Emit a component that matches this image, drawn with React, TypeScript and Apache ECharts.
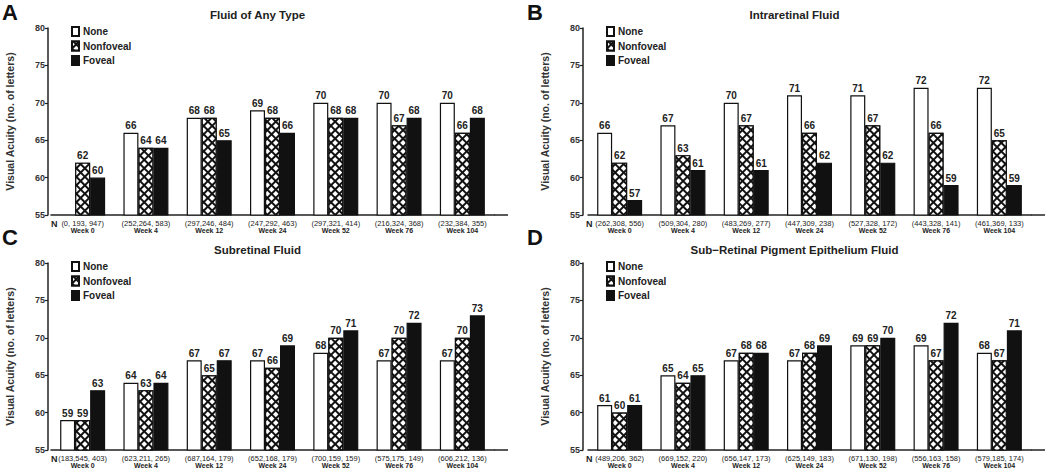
import React, { useEffect, useRef } from "react";
import * as echarts from "echarts";

const weeks = ["Week 0", "Week 4", "Week 12", "Week 24", "Week 52", "Week 76", "Week 104"];
const seriesNames = ["None", "Nonfoveal", "Foveal"];

// A: Fluid of Any Type
const anyNone = [null, 66, 68, 69, 70, 70, 70];
const anyNonfoveal = [62, 64, 68, 68, 68, 67, 66];
const anyFoveal = [60, 64, 65, 66, 68, 68, 68];
const anyN = ["(0, 193, 947)", "(252,264, 583)", "(297,246, 484)", "(247,292, 463)", "(297,321, 414)", "(216,324, 368)", "(232,384, 355)"];

// B: Intraretinal Fluid
const irfNone = [66, 67, 70, 71, 71, 72, 72];
const irfNonfoveal = [62, 63, 67, 66, 67, 66, 65];
const irfFoveal = [57, 61, 61, 62, 62, 59, 59];
const irfN = ["(262,308, 556)", "(509,304, 280)", "(483,269, 277)", "(447,309, 238)", "(527,328, 172)", "(443,328, 141)", "(461,369, 133)"];

// C: Subretinal Fluid
const srfNone = [59, 64, 67, 67, 68, 67, 67];
const srfNonfoveal = [59, 63, 65, 66, 70, 70, 70];
const srfFoveal = [63, 64, 67, 69, 71, 72, 73];
const srfN = ["(183,545, 403)", "(623,211, 265)", "(687,164, 179)", "(652,168, 179)", "(700,159, 159)", "(575,175, 149)", "(606,212, 136)"];

// D: Sub-Retinal Pigment Epithelium Fluid
const rpeNone = [61, 65, 67, 67, 69, 69, 68];
const rpeNonfoveal = [60, 64, 68, 68, 69, 67, 67];
const rpeFoveal = [61, 65, 68, 69, 70, 72, 71];
const rpeN = ["(489,206, 362)", "(669,152, 220)", "(656,147, 173)", "(625,149, 183)", "(671,130, 198)", "(556,163, 158)", "(579,185, 174)"];

const yTicks = { min: 55, max: 80, interval: 5 };
const yTitle = "Visual Acuity (no. of letters)";

const FONT = "'Liberation Sans', Arial, Helvetica, sans-serif";

const panels = [
  { letter: "A", title: "Fluid of Any Type", values: [anyNone, anyNonfoveal, anyFoveal], n: anyN, left: 51, top: 28, axisX: 48, lineEnd: 508, letterX: 2, letterY: 1 },
  { letter: "B", title: "Intraretinal Fluid", values: [irfNone, irfNonfoveal, irfFoveal], n: irfN, left: 588, top: 28, axisX: 583, lineEnd: 1045, letterX: 527, letterY: 1 },
  { letter: "C", title: "Subretinal Fluid", values: [srfNone, srfNonfoveal, srfFoveal], n: srfN, left: 51, top: 263, axisX: 48, lineEnd: 508, letterX: 2, letterY: 226 },
  { letter: "D", title: "Sub\u2212Retinal Pigment Epithelium Fluid", values: [rpeNone, rpeNonfoveal, rpeFoveal], n: rpeN, left: 588, top: 263, axisX: 583, lineEnd: 1045, letterX: 527, letterY: 226 },
];

const GRID_W = 443;
const GRID_H = 187;

const hatch = {
  symbol: "rect",
  symbolSize: 1,
  color: "#ffffff",
  dashArrayX: [3.2, 1.6],
  dashArrayY: [3.2, 1.6],
  rotation: Math.PI / 4,
};

const styles = [
  { color: "#ffffff", borderColor: "#111", borderWidth: 1.2 },
  { color: "#111111", borderColor: "#111", borderWidth: 1.2, decal: hatch },
  { color: "#111111", borderColor: "#111", borderWidth: 1.2 },
];

export default function App() {
  const ref = useRef<HTMLDivElement>(null);
  useEffect(() => {
    if (!ref.current) return;
    const chart = echarts.init(ref.current, null, { renderer: "svg" });

    const title: any[] = [];
    const legend: any[] = [];
    const grid: any[] = [];
    const xAxis: any[] = [];
    const yAxis: any[] = [];
    const series: any[] = [];
    const graphic: any[] = [];

    panels.forEach((p, i) => {
      title.push({
        text: p.title,
        left: p.left + GRID_W / 2 - 20,
        top: p.top - 24,
        textAlign: "center",
        textStyle: { fontFamily: FONT, fontSize: 11.5, fontWeight: "bold", color: "#222" },
      });
      title.push({
        text: p.letter,
        left: p.letterX,
        top: p.letterY,
        padding: 0,
        textStyle: { fontFamily: FONT, fontSize: 22, fontWeight: "bold", color: "#111" },
      });
      legend.push({
        left: p.axisX + 23,
        top: p.top - 2,
        orient: "vertical",
        icon: "rect",
        itemWidth: 7,
        itemHeight: 9,
        itemGap: 3.5,
        padding: 0,
        selectedMode: false,
        data: seriesNames,
        textStyle: { fontFamily: FONT, fontSize: 10, fontWeight: "bold", color: "#222", padding: [0, 0, 0, -1] },
      });
      grid.push({ left: p.left, top: p.top, width: GRID_W, height: GRID_H });
      xAxis.push({
        type: "category",
        gridIndex: i,
        data: weeks,
        axisLine: { show: true, lineStyle: { color: "#222", width: 1.5 } },
        axisTick: { show: false },
        axisLabel: {
          interval: 0,
          margin: 5,
          formatter: (val: string, idx: number) => `{n|${p.n[idx]}}\n{w|${val}}`,
          rich: {
            n: { fontFamily: FONT, fontSize: 7.5, color: "#222", lineHeight: 7 },
            w: { fontFamily: FONT, fontSize: 7, fontWeight: "bold", color: "#222", lineHeight: 7 },
          },
        },
      });
      yAxis.push({
        type: "value",
        gridIndex: i,
        min: yTicks.min,
        max: yTicks.max,
        interval: yTicks.interval,
        offset: p.left - p.axisX,
        name: yTitle,
        nameLocation: "middle",
        nameGap: 33,
        nameTextStyle: { fontFamily: FONT, fontSize: 10.5, fontWeight: "bold", color: "#333" },
        axisLine: { show: true, lineStyle: { color: "#222", width: 1.5 } },
        axisTick: { show: true, length: 3, lineStyle: { color: "#222", width: 1.2 } },
        axisLabel: { margin: 3, fontFamily: FONT, fontSize: 9, fontWeight: "bold", color: "#333" },
        splitLine: { show: false },
      });
      seriesNames.forEach((name, k) => {
        series.push({
          type: "bar",
          name,
          xAxisIndex: i,
          yAxisIndex: i,
          data: p.values[k],
          barWidth: 15,
          barGap: "0%",
          itemStyle: styles[k],
          label: {
            show: true,
            position: "top",
            distance: 2,
            fontFamily: FONT,
            fontSize: 10,
            fontWeight: "bold",
            color: "#222",
          },
        });
      });
      graphic.push({
        type: "line",
        shape: { x1: p.left + GRID_W, y1: p.top + GRID_H, x2: p.lineEnd, y2: p.top + GRID_H },
        style: { stroke: "#222", lineWidth: 1.5 },
      });
      graphic.push({
        type: "text",
        left: p.axisX + 3,
        top: p.top + GRID_H + 4,
        style: { text: "N", font: `bold 9px ${FONT}`, fill: "#222" },
      });
    });

    chart.setOption({
      animation: false,
      backgroundColor: "#ffffff",
      textStyle: { fontFamily: FONT },
      title,
      legend,
      grid,
      xAxis,
      yAxis,
      series,
      graphic,
    });
    return () => chart.dispose();
  }, []);

  return (
    <div
      ref={ref}
      style={{ position: "fixed", left: 0, top: 0, width: 1050, height: 471, background: "#fff" }}
    />
  );
}
